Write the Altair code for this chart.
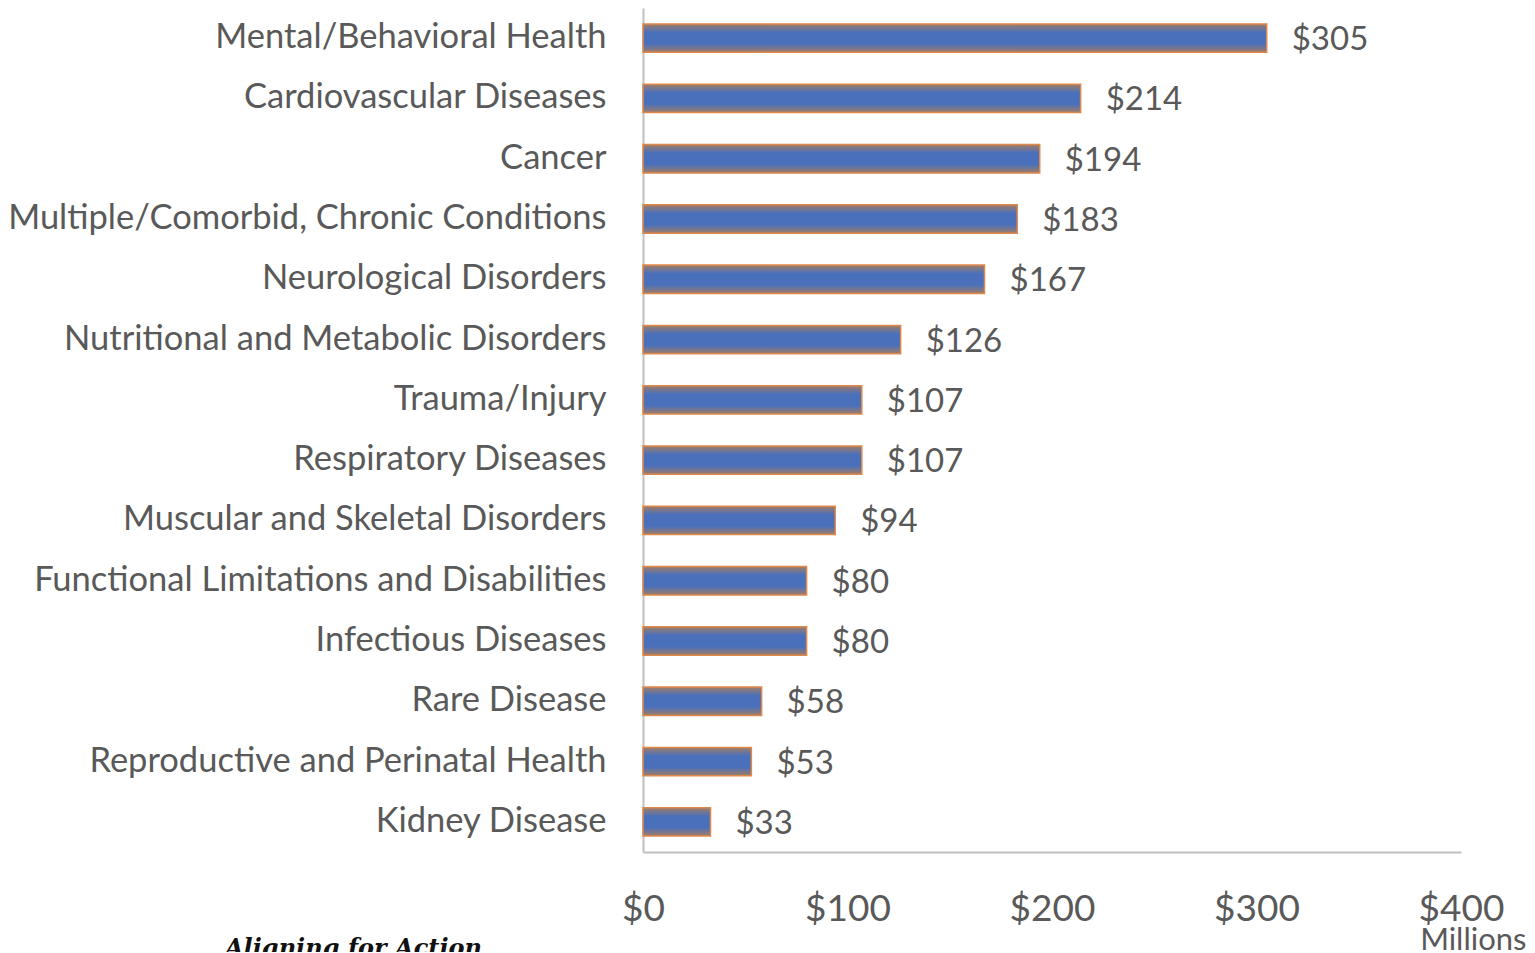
import altair as alt
import pandas as pd

categories = [
    "Mental/Behavioral Health",
    "Cardiovascular Diseases",
    "Cancer",
    "Multiple/Comorbid, Chronic Conditions",
    "Neurological Disorders",
    "Nutritional and Metabolic Disorders",
    "Trauma/Injury",
    "Respiratory Diseases",
    "Muscular and Skeletal Disorders",
    "Functional Limitations and Disabilities",
    "Infectious Diseases",
    "Rare Disease",
    "Reproductive and Perinatal Health",
    "Kidney Disease",
]
values = [305, 214, 194, 183, 167, 126, 107, 107, 94, 80, 80, 58, 53, 33]
tick_values = [0, 100, 200, 300, 400]

df = pd.DataFrame({"category": categories, "value": values})
df["label"] = ["$" + str(v) for v in values]

FONT = "Lato"
GRAY = "#595959"

gradient = {
    "gradient": "linear",
    "x1": 0, "y1": 0, "x2": 0, "y2": 1,
    "stops": [
        {"offset": 0.0, "color": "#a07d66"},
        {"offset": 0.3, "color": "#4a70bb"},
        {"offset": 0.7, "color": "#4a70bb"},
        {"offset": 1.0, "color": "#a07d66"},
    ],
}

y_enc = alt.Y(
    "category:N",
    sort=categories,
    scale=alt.Scale(paddingInner=0.53, paddingOuter=0.265),
    axis=alt.Axis(
        title=None, ticks=False, labelFontSize=34.5, labelFont=FONT,
        labelColor=GRAY, labelPadding=37, domainColor="#BFBFBF",
        domainWidth=2, labelLimit=800,
    ),
)
x_enc = alt.X(
    "value:Q",
    scale=alt.Scale(domain=[0, 400]),
    axis=alt.Axis(
        values=tick_values, format="$,d", grid=False, ticks=False,
        labelFontSize=37, labelFont=FONT, labelColor=GRAY, labelPadding=39,
        labelFlush=False, labelBound=False, labelOverlap=False,
        domainColor="#BFBFBF", domainWidth=2,
        title="Millions", titleFont=FONT, titleFontSize=31,
        titleFontWeight="normal", titleColor=GRAY, titleAnchor="end",
        titleAlign="right", titleX=883, titleY=97, titleBaseline="alphabetic",
    ),
)

bars = alt.Chart(df).mark_bar(
    color=gradient, stroke="#e0884a", strokeWidth=1.5
).encode(x=x_enc, y=y_enc)

labels = alt.Chart(df).mark_text(
    align="left", baseline="middle", dx=25, dy=2, fontSize=33,
    font=FONT, color=GRAY,
).encode(x="value:Q", y=alt.Y("category:N", sort=categories), text="label:N")

logo = alt.Chart(pd.DataFrame({"t": ["Aligning for Action"]})).mark_text(
    align="left", baseline="alphabetic", fontSize=24, font="DejaVu Serif",
    fontStyle="italic", fontWeight="bold", color="#111111",
).encode(x=alt.value(-418), y=alt.value(948), text="t:N")

chart = (
    alt.layer(bars, labels, logo)
    .properties(
        width=818, height=844,
        autosize=alt.AutoSizeParams(type="none"),
        padding={"left": 635, "top": 0, "right": 66, "bottom": 100},
    )
    .configure(background="white")
    .configure_view(strokeWidth=0, stroke="transparent")
)

chart.save("out.html", embed_options={"renderer": "svg", "actions": False})
